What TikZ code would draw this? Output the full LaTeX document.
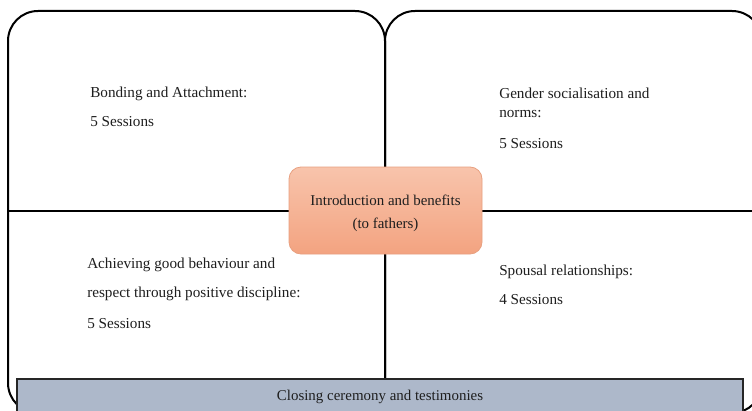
\documentclass[tikz,border=0pt]{standalone}
\usepackage{fontspec}
\setmainfont{Liberation Serif}
\definecolor{barfill}{RGB}{173,184,202}
\definecolor{introtop}{RGB}{248,196,172}
\definecolor{introbot}{RGB}{243,163,128}
\definecolor{introedge}{RGB}{232,160,128}
\definecolor{txt}{RGB}{30,30,30}
\begin{document}
\begin{tikzpicture}[x=0.75pt,y=-0.75pt,
  quad/.style={draw=black,line width=1.5pt,rounded corners=22.5pt},
  lbl/.style={anchor=west,inner sep=0pt,text=txt,font=\fontsize{11.4}{13}\selectfont},
  clbl/.style={inner sep=0pt,text=txt,font=\fontsize{11.2}{13}\selectfont,align=center}]
\useasboundingbox (0,0) rectangle (752,410);
\clip (0,0) rectangle (752,410);
\fill[white] (0,0) rectangle (752,410);
% quadrants
\draw[quad] (8,211) -- (8,11) -- (385,11) -- (385,211);
\draw[quad] (385,211) -- (385,11) -- (762,11) -- (762,211);
\draw[quad] (8,211) -- (8,413) -- (385,413) -- (385,211);
\draw[quad] (385,211) -- (385,413) -- (762,413) -- (762,211);
\draw[line width=1.5pt] (8,211) -- (762,211);
% quadrant texts
\node[lbl] (tl1) at (90,93.5) {Bonding and Attachment:};
\node[lbl] (tl2) at (90,121.5) {5 Sessions};
\node[lbl] (tr1) at (499,93.5) {Gender socialisation and};
\node[lbl] (tr2) at (499,114.5) {norms:};
\node[lbl] (tr3) at (499,143.5) {5 Sessions};
\node[lbl] (bl1) at (87,264.5) {Achieving good behaviour and};
\node[lbl] (bl2) at (87,293.5) {respect through positive discipline:};
\node[lbl] (bl3) at (87,323.5) {5 Sessions};
\node[lbl] (br1) at (499,271.5) {Spousal relationships:};
\node[lbl] (br2) at (499,299.5) {4 Sessions};
% centre box
\shade[top color=introtop,bottom color=introbot,draw=introedge,line width=0.6pt,rounded corners=9pt]
  (289,167) rectangle (482,254);
\node[clbl] (intro) at (385.5,213) {Introduction and benefits\\[4pt](to fathers)};
% closing bar
\draw[fill=barfill,draw=black!85,line width=1.1pt] (17,379) rectangle (743,420);
\node[clbl] (closing) at (380,397) {Closing ceremony and testimonies};
\end{tikzpicture}
\end{document}
